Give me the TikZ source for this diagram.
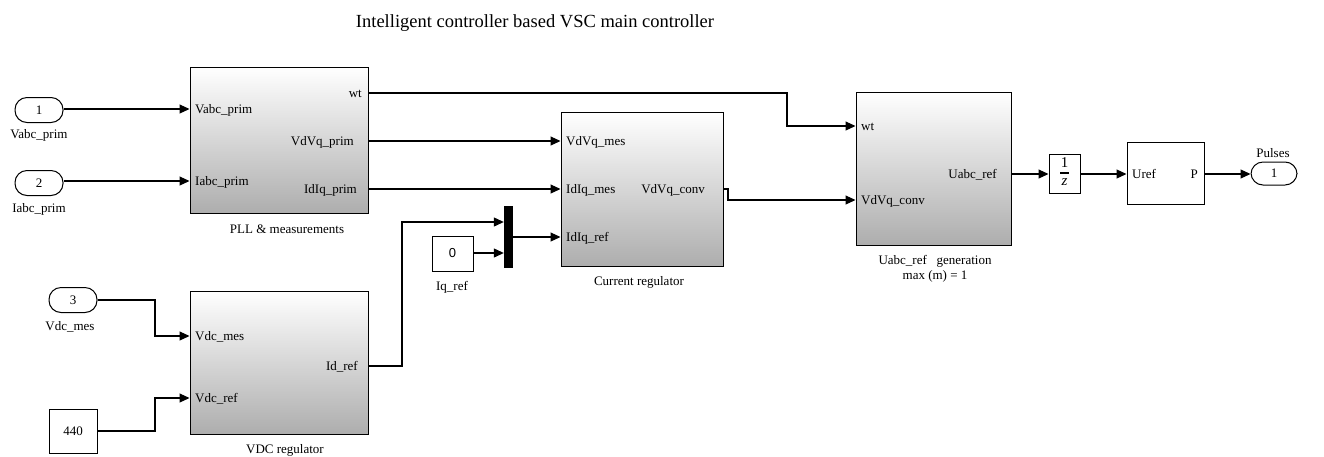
\documentclass[tikz,border=0pt]{standalone}
\usepackage{fontspec}
\setmainfont{Liberation Serif}
\newfontfamily\arialf{Liberation Sans}
\usetikzlibrary{arrows.meta,calc}
\begin{document}
\begin{tikzpicture}[x=1pt,y=-1pt,font=\fontsize{13}{15}\selectfont,
 blk/.style={draw,line width=1pt,top color=white,bottom color=black!32,inner sep=0pt},
 plainblk/.style={draw,line width=1pt,fill=white,inner sep=0pt},
 portoval/.style={draw,line width=1pt,rounded corners=12pt,minimum width=48pt,minimum height=25pt,inner sep=0pt},
 lbl/.style={inner sep=0pt},
 wire/.style={line width=1.1pt},
 arr/.style={wire,-{Triangle[length=10pt,width=9pt]}}]
\useasboundingbox (0,0) rectangle (1324,456);
\fill[white] (0,0) rectangle (1324,456);

% title
\node[lbl,anchor=base,font=\fontsize{18.5}{20}\selectfont] (title) at (535,27) {Intelligent controller based VSC main controller};

% main blocks
\node[blk,minimum width=178pt,minimum height=146pt] (pll) at (279,140) {};
\node[blk,minimum width=162pt,minimum height=154pt] (cur) at (642,189) {};
\node[blk,minimum width=155pt,minimum height=153pt] (uabc) at (933.5,168.5) {};
\node[blk,minimum width=178pt,minimum height=143pt] (vdc) at (279,362.5) {};
\node[plainblk,minimum width=31pt,minimum height=39pt,font=\fontsize{15}{15}\selectfont] (dly) at (1064.5,173.5)
  {\begin{tabular}{@{}c@{}}1\\[-9pt]\rule{9pt}{1.8pt}\\[-3pt]\textit{z}\end{tabular}};
\node[plainblk,minimum width=77pt,minimum height=62pt] (pwm) at (1165.5,173) {};
\node[portoval,minimum width=46pt,minimum height=23pt] (out1) at (1274,173.5) {1};
\node[portoval] (in1) at (39,110) {1};
\node[portoval] (in2) at (39,183) {2};
\node[portoval] (in3) at (73,300) {3};
\node[plainblk,minimum width=48pt,minimum height=44pt] (c440) at (73,431) {440};
\node[plainblk,minimum width=41pt,minimum height=35pt,font=\arialf\fontsize{13}{15}\selectfont] (c0) at (452.5,253.5) {0};
\node[fill=black,minimum width=9pt,minimum height=62pt,inner sep=0pt] (mux) at (508.5,237) {};

% captions
\node[lbl,anchor=base] (capin1) at (39,138) {Vabc\_prim};
\node[lbl,anchor=base] (capin2) at (39,212) {Iabc\_prim};
\node[lbl,anchor=base] (capin3) at (70,330) {Vdc\_mes};
\node[lbl,anchor=base] (capc0) at (452,290) {Iq\_ref};
\node[lbl,anchor=base] (cappll) at (287,233) {PLL \& measurements};
\node[lbl,anchor=base] (capcur) at (639,285) {Current regulator};
\node[lbl,anchor=base] (capvdc) at (285,453) {VDC regulator};
\node[lbl,anchor=base] (capuabc1) at (935,264) {Uabc\_ref\ \ \ generation};
\node[lbl,anchor=base] (capuabc2) at (935,279) {max (m) = 1};
\node[lbl,anchor=base] (capout) at (1273,157) {Pulses};

% port labels (baseline = port y + 4)
\node[lbl,anchor=base west] (pVabc) at (195,113) {Vabc\_prim};
\node[lbl,anchor=base west] (pIabc) at (195,185) {Iabc\_prim};
\node[lbl,anchor=base east] (pwt) at (362,97) {wt};
\node[lbl,anchor=base east] (pVdVq) at (354,145) {VdVq\_prim};
\node[lbl,anchor=base east] (pIdIq) at (357,193) {IdIq\_prim};

\node[lbl,anchor=base west] (cVmes) at (566,145) {VdVq\_mes};
\node[lbl,anchor=base west] (cImes) at (566,193) {IdIq\_mes};
\node[lbl,anchor=base west] (cIref) at (566,241) {IdIq\_ref};
\node[lbl,anchor=base east] (cVconv) at (705,193) {VdVq\_conv};

\node[lbl,anchor=base west] (uwt) at (861,130) {wt};
\node[lbl,anchor=base west] (uVconv) at (861,204) {VdVq\_conv};
\node[lbl,anchor=base east] (uUref) at (997,178) {Uabc\_ref};

\node[lbl,anchor=base west] (wUref) at (1132,178) {Uref};
\node[lbl,anchor=base east] (wP) at (1198,178) {P};

\node[lbl,anchor=base west] (vVmes) at (195,340) {Vdc\_mes};
\node[lbl,anchor=base west] (vVref) at (195,402) {Vdc\_ref};
\node[lbl,anchor=base east] (vIdref) at (358,370) {Id\_ref};

% bend coordinates
\coordinate (bwt) at (787,0);
\coordinate (bconv) at (728,0);
\coordinate (bid) at (402,0);
\coordinate (bleft) at (155,0);

% port y coordinates
\coordinate (yVabc) at (0,109);
\coordinate (yIabc) at (0,181);
\coordinate (ywt) at (0,93);
\coordinate (yVdVq) at (0,141);
\coordinate (yIdIq) at (0,189);
\coordinate (yIref) at (0,237);
\coordinate (yuwt) at (0,126);
\coordinate (yuconv) at (0,200);
\coordinate (yU) at (0,174);
\coordinate (yVmes) at (0,336);
\coordinate (yVref) at (0,398);
\coordinate (yId) at (0,366);
\coordinate (ymux1) at (0,222);
\coordinate (ymux2) at (0,253);

% wires
\draw[arr] (in1.east |- yVabc) -- (pll.west |- yVabc);
\draw[arr] (in2.east |- yIabc) -- (pll.west |- yIabc);
\draw[arr] (pll.east |- ywt) -- (bwt |- ywt) -- (bwt |- yuwt) -- (uabc.west |- yuwt);
\draw[arr] (pll.east |- yVdVq) -- (cur.west |- yVdVq);
\draw[arr] (pll.east |- yIdIq) -- (cur.west |- yIdIq);
\draw[arr] (cur.east |- yIdIq) -- (bconv |- yIdIq) -- (bconv |- yuconv) -- (uabc.west |- yuconv);
\draw[arr] (uabc.east |- yU) -- (dly.west |- yU);
\draw[arr] (dly.east |- yU) -- (pwm.west |- yU);
\draw[arr] (pwm.east |- yU) -- (out1.west |- yU);
\draw[arr] (in3.east |- in3) -- (bleft |- in3) -- (bleft |- yVmes) -- (vdc.west |- yVmes);
\draw[arr] (c440.east |- c440) -- (bleft |- c440) -- (bleft |- yVref) -- (vdc.west |- yVref);
\draw[arr] (vdc.east |- yId) -- (bid |- yId) -- (bid |- ymux1) -- (mux.west |- ymux1);
\draw[arr] (c0.east |- ymux2) -- (mux.west |- ymux2);
\draw[arr] (mux.east |- yIref) -- (cur.west |- yIref);
\end{tikzpicture}
\end{document}
